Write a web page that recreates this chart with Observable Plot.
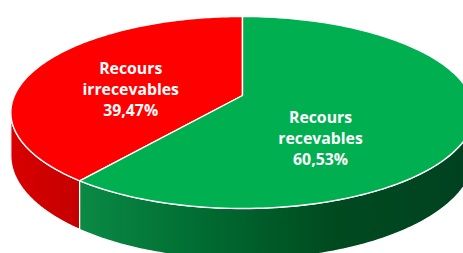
<!DOCTYPE html>
<html><head><meta charset="utf-8">
<script src="https://cdn.jsdelivr.net/npm/d3@7"></script>
<script src="https://cdn.jsdelivr.net/npm/@observablehq/plot@0.6"></script>
<style>body{margin:0;overflow:hidden;background:#fff}</style>
</head><body><div id="chart"></div>
<script>
const categories = ["Recours irrecevables", "Recours recevables"];
const values = [39.47, 60.53];
const valueLabels = ["39,47%", "60,53%"];
const topColors = ["#FF0000", "#00B050"];
const sideGradients = [
  [[0, "#dc0000"], [0.17, "#c40000"], [1, "#c00000"]],
  [[0.17, "#0a8a45"], [0.45, "#006a30"], [0.72, "#004a20"], [1, "#004220"]]
];

const K = 0.177;      // perspective strength
const DEPTH = 0.45;   // thickness, in y units
function proj(t, r = 1, drop = 0) {
  const u = r * Math.sin(t), v = -r * Math.cos(t);
  const s = 1 / (1 - K * v);
  return {x: u * s, y: (v + drop) * s};
}

const total = d3.sum(values);
const start = -2 * Math.PI * values[0] / total;
const arcs = d3.pie().sort(null).startAngle(start).endAngle(start + 2 * Math.PI)(values);

const N = 160;
const tops = [], sides = [];
arcs.forEach((a, i) => {
  const id = "top" + i;
  tops.push({id, x: 0, y: 0, fill: topColors[i]});
  for (let j = 0; j <= N; j++) {
    const t = a.startAngle + (a.endAngle - a.startAngle) * j / N;
    tops.push({id, ...proj(t), fill: topColors[i]});
  }
  tops.push({id, x: 0, y: 0, fill: topColors[i]});
  const V0 = Math.acos(-K), V1 = 2 * Math.PI - Math.acos(-K);
  for (const sh of [-2 * Math.PI, 0, 2 * Math.PI]) {
    const b0 = Math.max(a.startAngle, V0 + sh), b1 = Math.min(a.endAngle, V1 + sh);
    if (b1 > b0) {
      const sid = "side" + i + "_" + sh;
      const f = `url(#side${i})`;
      const pts = [];
      for (let j = 0; j <= N; j++) pts.push({id: sid, ...proj(b0 + (b1 - b0) * j / N), fill: f});
      for (let j = N; j >= 0; j--) pts.push({id: sid, ...proj(b0 + (b1 - b0) * j / N, 1, DEPTH), fill: f});
      pts.push(pts[0]);
      sides.push(...pts);
    }
  }
});

const labelData = arcs.map((a, i) => {
  const mid = (a.startAngle + a.endAngle) / 2;
  const p = proj(mid, 0.5);
  return {...p, text: categories[i].replace(" ", "\n") + "\n" + valueLabels[i]};
});

const W = 463, H = 253;
const defs = () => {
  const d = d3.create("svg:defs");
  sideGradients.forEach((stops, i) => {
    const g = d.append("linearGradient").attr("id", "side" + i)
      .attr("gradientUnits", "userSpaceOnUse")
      .attr("x1", 0).attr("x2", W).attr("y1", 0).attr("y2", 0);
    stops.forEach(([o, c]) => g.append("stop").attr("offset", o).attr("stop-color", c));
  });
  return d.node();
};

const chart = Plot.plot({
  width: W, height: H,
  margin: 0,
  x: {domain: [-1, 1], range: [14, 470], axis: null},
  y: {domain: [-1, 1], range: [2, 188], axis: null},
  color: {type: "identity"},
  style: {background: "white", fontFamily: "'Open Sans', sans-serif"},
  marks: [
    defs,
    Plot.line(sides, {x: "x", y: "y", z: "id", fill: "fill", stroke: "white", strokeWidth: 1.2, curve: "linear"}),
    Plot.line(tops, {x: "x", y: "y", z: "id", fill: "fill", stroke: "white", strokeWidth: 1.4, strokeLinejoin: "round", curve: "linear"}),
    Plot.text([labelData[0]], {x: "x", y: "y", text: "text", dx: -7, dy: 7, fill: "white", fontSize: 15.8, fontWeight: "bold", lineHeight: 1.33}),
    Plot.text([labelData[1]], {x: "x", y: "y", text: "text", dx: -33, dy: 26, fill: "white", fontSize: 15.8, fontWeight: "bold", lineHeight: 1.33})
  ]
});
document.getElementById("chart").appendChild(chart);
</script>
</body></html>
